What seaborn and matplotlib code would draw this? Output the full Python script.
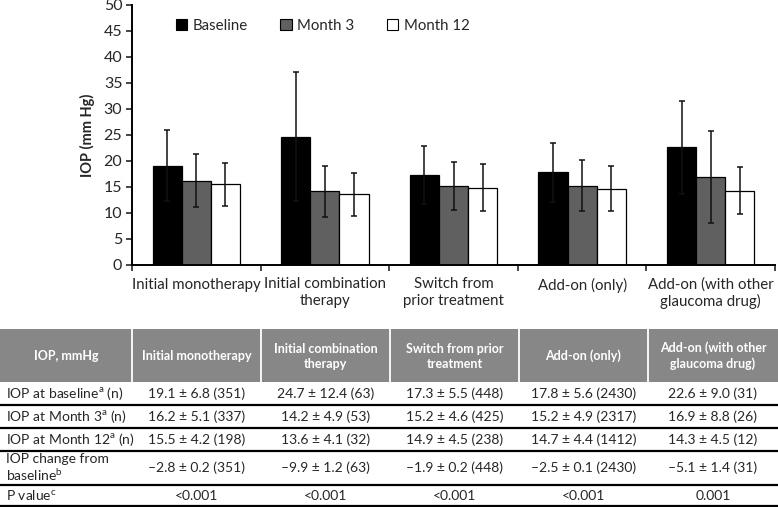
import numpy as np
import pandas as pd
import matplotlib
matplotlib.use('Agg')
import matplotlib.pyplot as plt
from matplotlib.patches import Rectangle
import seaborn as sns

categories = ['Initial monotherapy', 'Initial combination\ntherapy', 'Switch from\nprior treatment',
              'Add-on (only)', 'Add-on (with other\nglaucoma drug)']
periods = ['Baseline', 'Month 3', 'Month 12']
baseline_mean = [19.1, 24.7, 17.3, 17.8, 22.6]
baseline_sd = [6.8, 12.4, 5.5, 5.6, 9.0]
m3_mean = [16.2, 14.2, 15.2, 15.2, 16.9]
m3_sd = [5.1, 4.9, 4.6, 4.9, 8.8]
m12_mean = [15.5, 13.6, 14.9, 14.7, 14.3]
m12_sd = [4.2, 4.1, 4.5, 4.4, 4.5]

table_cols = ['IOP, mmHg', 'Initial monotherapy', 'Initial combination\ntherapy',
              'Switch from prior\ntreatment', 'Add-on (only)', 'Add-on (with other\nglaucoma drug)']
row_labels = [r'IOP at baseline$^{\mathrm{a}}$ (n)', r'IOP at Month 3$^{\mathrm{a}}$ (n)',
              r'IOP at Month 12$^{\mathrm{a}}$ (n)', 'IOP change from\n' + r'baseline$^{\mathrm{b}}$',
              r'P value$^{\mathrm{c}}$']
row_baseline = ['19.1 ± 6.8 (351)', '24.7 ± 12.4 (63)', '17.3 ± 5.5 (448)', '17.8 ± 5.6 (2430)', '22.6 ± 9.0 (31)']
row_m3 = ['16.2 ± 5.1 (337)', '14.2 ± 4.9 (53)', '15.2 ± 4.6 (425)', '15.2 ± 4.9 (2317)', '16.9 ± 8.8 (26)']
row_m12 = ['15.5 ± 4.2 (198)', '13.6 ± 4.1 (32)', '14.9 ± 4.5 (238)', '14.7 ± 4.4 (1412)', '14.3 ± 4.5 (12)']
row_change = ['–2.8 ± 0.2 (351)', '–9.9 ± 1.2 (63)', '–1.9 ± 0.2 (448)', '–2.5 ± 0.1 (2430)', '–5.1 ± 1.4 (31)']
row_p = ['<0.001', '<0.001', '<0.001', '<0.001', '0.001']

sns.set_style('white')
plt.rcParams['font.family'] = ['Lato', 'DejaVu Sans']
plt.rcParams['mathtext.fontset'] = 'custom'
plt.rcParams['mathtext.rm'] = 'Lato'

means = [baseline_mean, m3_mean, m12_mean]
sds = [baseline_sd, m3_sd, m12_sd]
df = pd.DataFrame({
    'category': categories * 3,
    'period': np.repeat(periods, len(categories)),
    'iop': baseline_mean + m3_mean + m12_mean,
})

fig = plt.figure(figsize=(7.78, 5.07), dpi=100)
ax = fig.add_axes([132 / 778, 1 - 265 / 507, 643 / 778, 260 / 507])

colors = ['black', '#606060', 'white']
sns.barplot(data=df, x='category', y='iop', hue='period', palette=colors, edgecolor='black',
            linewidth=0.9, width=0.68, errorbar=None, ax=ax)

bar_conts = list(ax.containers)
for i, cont in enumerate(bar_conts):
    xs = [b.get_x() + b.get_width() / 2 for b in cont]
    ax.errorbar(xs, means[i], yerr=sds[i], fmt='none', ecolor='#111111', elinewidth=1.1,
                capsize=2.5, capthick=1.1, zorder=3)

ax.set_ylim(0, 50)
ax.set_xlim(-0.5, 4.5)
ax.set_yticks(range(0, 51, 5))
ax.set_ylabel('IOP (mm Hg)', fontsize=10.5, fontweight='bold', labelpad=6)
ax.set_xlabel('')
ax.tick_params(axis='y', direction='out', length=4, width=1.2, labelsize=11.5, pad=3, left=True)
ax.tick_params(axis='x', which='major', length=0, labelsize=10.8, pad=9)
ax.set_xticks(np.arange(-0.5, 5, 1), minor=True)
ax.tick_params(axis='x', which='minor', direction='out', length=4, width=1.2, bottom=True)
for s in ['top', 'right']:
    ax.spines[s].set_visible(False)
for s in ['left', 'bottom']:
    ax.spines[s].set_color('black')
    ax.spines[s].set_linewidth(1.4)

handles = [Rectangle((0, 0), 1, 1, facecolor=c, edgecolor='black', linewidth=0.8) for c in colors]
ax.legend(handles, periods, loc='upper left', bbox_to_anchor=(0.047, 1.0), ncol=3, frameon=False,
          fontsize=10.8, handlelength=0.75, handleheight=0.75, handletextpad=0.35, columnspacing=2.2)

# table
tx = fig.add_axes([0, 0, 1, 178 / 507])
tx.set_xlim(0, 778)
tx.set_ylim(507, 329)
tx.axis('off')
col_edges = [0, 132, 261, 390, 519, 648, 778]
tx.add_patch(Rectangle((0, 329), 778, 53, facecolor='#878787', edgecolor='none'))
for xe in col_edges[1:-1]:
    tx.plot([xe, xe], [329, 382], color='white', lw=1.3)
for j, name in enumerate(table_cols):
    xc = (col_edges[j] + col_edges[j + 1]) / 2
    tx.text(xc, 356, name, ha='center', va='center', color='white', fontsize=9.0,
            fontweight='bold', linespacing=1.3)

row_bounds = [382, 405, 428, 451, 485, 506]
rows = [row_baseline, row_m3, row_m12, row_change, row_p]
for r, (label, vals) in enumerate(zip(row_labels, rows)):
    yc = (row_bounds[r] + row_bounds[r + 1]) / 2
    tx.text(6, yc, label, ha='left', va='center', fontsize=10, linespacing=1.1)
    for j, v in enumerate(vals):
        xc = (col_edges[j + 1] + col_edges[j + 2]) / 2
        tx.text(xc, yc, v, ha='center', va='center', fontsize=10)
for yb in row_bounds[1:]:
    tx.plot([0, 778], [yb, yb], color='black', lw=1.6)

fig.savefig('out.png', dpi=100)
